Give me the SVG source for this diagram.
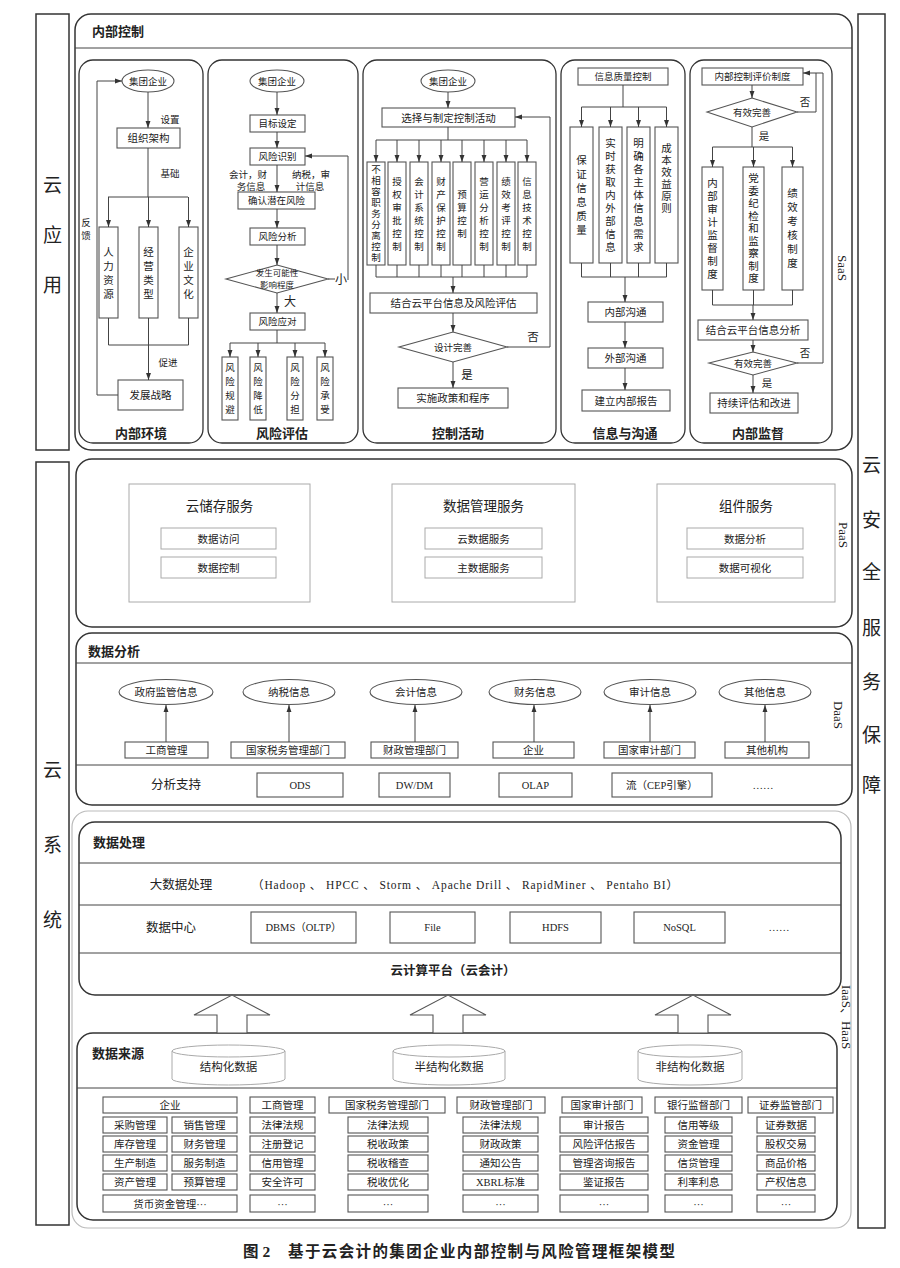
<svg xmlns="http://www.w3.org/2000/svg" width="900" height="1268" viewBox="0 0 900 1268">
<defs>
<marker id="a" viewBox="0 0 10 10" refX="10" refY="5" markerWidth="7" markerHeight="7" orient="auto" markerUnits="userSpaceOnUse"><path d="M0,1.5 L10,5 L0,8.5 z" fill="#333"/></marker>
<style>
.frame{fill:#fff;stroke:#333;stroke-width:1.5}
.pan{fill:#fff;stroke:#333;stroke-width:1.3}
.b{fill:#fff;stroke:#555;stroke-width:1.1}
.lb{fill:#fff;stroke:#aaa;stroke-width:1}
.c{fill:none;stroke:#444;stroke-width:1}
.ca{fill:none;stroke:#444;stroke-width:1;marker-end:url(#a)}
text{font-family:"Liberation Serif","Noto Sans CJK SC",serif;fill:#222}
.t{font-size:10.5px;text-anchor:middle}
.s{font-size:9.5px;text-anchor:middle}
.h{font-size:13px;font-weight:bold;text-anchor:middle}
.hl{font-size:13px;font-weight:bold}
.big{font-size:19px;text-anchor:middle}
.m{font-size:12.5px;text-anchor:middle}
.rot{font-size:13px;text-anchor:middle}
</style>
</defs>
<rect width="900" height="1268" fill="#fff"/>

<!-- side columns -->
<g id="cloud-app"><rect class="frame" x="36" y="14" width="33" height="436"/>
<text class="big" x="52.5" y="192">云</text><text class="big" x="52.5" y="242">应</text><text class="big" x="52.5" y="292">用</text></g>
<g id="cloud-system"><rect class="frame" x="36" y="462" width="33" height="763"/>
<text class="big" x="52.5" y="777">云</text><text class="big" x="52.5" y="852">系</text><text class="big" x="52.5" y="927">统</text></g>
<g id="cloud-security"><rect class="frame" x="858" y="14" width="27" height="1214"/>
<text class="big" x="871.5" y="472">云</text><text class="big" x="871.5" y="527">安</text><text class="big" x="871.5" y="579">全</text><text class="big" x="871.5" y="635">服</text><text class="big" x="871.5" y="689">务</text><text class="big" x="871.5" y="742">保</text><text class="big" x="871.5" y="792">障</text></g>

<!-- SaaS -->
<g id="internal-control"><rect class="frame" x="75" y="14" width="777" height="436" rx="16"/>
<line class="c" x1="75" y1="48" x2="852" y2="48"/>
<text class="hl" x="92" y="36">内部控制</text>
<text class="rot" transform="translate(838,268) rotate(90)">SaaS</text></g>

<g id="panel-env"><rect class="pan" x="79" y="60" width="124" height="383" rx="14"/>
<ellipse class="b" cx="148" cy="81" rx="26" ry="11"/><text class="s" x="148" y="84.5">集团企业</text>
<text class="s" x="170" y="123">设置</text>
<rect class="b" x="117" y="128" width="63" height="20"/><text class="t" x="148.5" y="142">组织架构</text>
<text class="s" x="170" y="177">基础</text>
<rect class="b" x="99" y="227" width="19" height="91"/><text class="t" x="108.5" y="255.5">人<tspan x="108.5" dy="14">力</tspan><tspan x="108.5" dy="14">资</tspan><tspan x="108.5" dy="14">源</tspan></text>
<rect class="b" x="139" y="227" width="19" height="91"/><text class="t" x="148.5" y="255.5">经<tspan x="148.5" dy="14">营</tspan><tspan x="148.5" dy="14">类</tspan><tspan x="148.5" dy="14">型</tspan></text>
<rect class="b" x="179" y="227" width="19" height="91"/><text class="t" x="188.5" y="255.5">企<tspan x="188.5" dy="14">业</tspan><tspan x="188.5" dy="14">文</tspan><tspan x="188.5" dy="14">化</tspan></text>
<text class="s" x="168" y="366">促进</text>
<text class="s" x="86" y="226">反<tspan x="86" dy="13">馈</tspan></text>
<rect class="b" x="118" y="380" width="65" height="30"/><text class="t" x="150.5" y="399">发展战略</text>
<text class="h" x="141" y="438">内部环境</text></g>

<g id="panel-risk"><rect class="pan" x="208" y="60" width="150" height="383" rx="14"/>
<ellipse class="b" cx="277" cy="81" rx="27" ry="11"/><text class="s" x="277" y="84.5">集团企业</text>
<rect class="b" x="250" y="115" width="55" height="17"/><text class="s" x="277.5" y="127">目标设定</text>
<rect class="b" x="250" y="148" width="55" height="17"/><text class="s" x="277.5" y="160">风险识别</text>
<text class="s" x="248" y="178">会计，财</text><text class="s" x="251" y="190">务信息</text>
<text class="s" x="311" y="178">纳税，审</text><text class="s" x="310" y="190">计信息</text>
<rect class="b" x="238" y="192" width="77" height="17"/><text class="s" x="276.5" y="204">确认潜在风险</text>
<rect class="b" x="250" y="228" width="55" height="17"/><text class="s" x="277.5" y="240">风险分析</text>
<polygon class="b" points="277,265 328,279 277,293 226,279"/>
<text class="s" x="277" y="276" style="font-size:8.5px">发生可能性</text><text class="s" x="277" y="288" style="font-size:8.5px">影响程度</text>
<text class="t" x="341" y="284" style="font-size:12px">小</text>
<text class="t" x="290" y="306" style="font-size:12px">大</text>
<rect class="b" x="250" y="313" width="55" height="17"/><text class="s" x="277.5" y="325">风险应对</text>
<rect class="b" x="222" y="357" width="16" height="63"/><text class="s" x="230" y="371">风<tspan x="230" dy="14">险</tspan><tspan x="230" dy="14">规</tspan><tspan x="230" dy="14">避</tspan></text>
<rect class="b" x="250" y="357" width="16" height="63"/><text class="s" x="258" y="371">风<tspan x="258" dy="14">险</tspan><tspan x="258" dy="14">降</tspan><tspan x="258" dy="14">低</tspan></text>
<rect class="b" x="287" y="357" width="16" height="63"/><text class="s" x="295" y="371">风<tspan x="295" dy="14">险</tspan><tspan x="295" dy="14">分</tspan><tspan x="295" dy="14">担</tspan></text>
<rect class="b" x="317" y="357" width="16" height="63"/><text class="s" x="325" y="371">风<tspan x="325" dy="14">险</tspan><tspan x="325" dy="14">承</tspan><tspan x="325" dy="14">受</tspan></text>
<text class="h" x="282" y="438">风险评估</text></g>

<g id="panel-ctrl"><rect class="pan" x="363" y="60" width="193" height="383" rx="14"/>
<ellipse class="b" cx="448" cy="81" rx="27" ry="11"/><text class="s" x="448" y="84.5">集团企业</text>
<rect class="b" x="382" y="108" width="133" height="19"/><text class="t" x="448.5" y="121.5">选择与制定控制活动</text>
<rect class="b" x="367" y="162" width="18" height="103"/><text class="s" x="376" y="173" style="font-size:9.5px">不<tspan x="376" dy="11">相</tspan><tspan x="376" dy="11">容</tspan><tspan x="376" dy="11">职</tspan><tspan x="376" dy="11">务</tspan><tspan x="376" dy="11">分</tspan><tspan x="376" dy="11">离</tspan><tspan x="376" dy="11">控</tspan><tspan x="376" dy="11">制</tspan></text>
<rect class="b" x="388" y="162" width="18" height="103"/><text class="s" x="397" y="185">授<tspan x="397" dy="13">权</tspan><tspan x="397" dy="13">审</tspan><tspan x="397" dy="13">批</tspan><tspan x="397" dy="13">控</tspan><tspan x="397" dy="13">制</tspan></text>
<rect class="b" x="410" y="162" width="18" height="103"/><text class="s" x="419" y="185">会<tspan x="419" dy="13">计</tspan><tspan x="419" dy="13">系</tspan><tspan x="419" dy="13">统</tspan><tspan x="419" dy="13">控</tspan><tspan x="419" dy="13">制</tspan></text>
<rect class="b" x="432" y="162" width="18" height="103"/><text class="s" x="441" y="185">财<tspan x="441" dy="13">产</tspan><tspan x="441" dy="13">保</tspan><tspan x="441" dy="13">护</tspan><tspan x="441" dy="13">控</tspan><tspan x="441" dy="13">制</tspan></text>
<rect class="b" x="453" y="162" width="18" height="103"/><text class="s" x="462" y="198">预<tspan x="462" dy="13">算</tspan><tspan x="462" dy="13">控</tspan><tspan x="462" dy="13">制</tspan></text>
<rect class="b" x="475" y="162" width="18" height="103"/><text class="s" x="484" y="185">营<tspan x="484" dy="13">运</tspan><tspan x="484" dy="13">分</tspan><tspan x="484" dy="13">析</tspan><tspan x="484" dy="13">控</tspan><tspan x="484" dy="13">制</tspan></text>
<rect class="b" x="497" y="162" width="18" height="103"/><text class="s" x="506" y="185">绩<tspan x="506" dy="13">效</tspan><tspan x="506" dy="13">考</tspan><tspan x="506" dy="13">评</tspan><tspan x="506" dy="13">控</tspan><tspan x="506" dy="13">制</tspan></text>
<rect class="b" x="518" y="162" width="18" height="103"/><text class="s" x="527" y="185">信<tspan x="527" dy="13">息</tspan><tspan x="527" dy="13">技</tspan><tspan x="527" dy="13">术</tspan><tspan x="527" dy="13">控</tspan><tspan x="527" dy="13">制</tspan></text>
<rect class="b" x="370" y="293" width="167" height="20"/><text class="t" x="453.5" y="307">结合云平台信息及风险评估</text>
<polygon class="b" points="453,332 507,347 453,362 399,347"/><text class="s" x="453" y="350.5">设计完善</text>
<text class="t" x="533" y="341" style="font-size:11.5px">否</text>
<text class="t" x="467" y="379" style="font-size:11.5px">是</text>
<rect class="b" x="398" y="388" width="110" height="20"/><text class="t" x="453" y="402">实施政策和程序</text>
<text class="h" x="458" y="438">控制活动</text></g>

<g id="panel-info"><rect class="pan" x="561" y="60" width="124" height="383" rx="14"/>
<rect class="b" x="578" y="68" width="90" height="17"/><text class="s" x="623" y="80">信息质量控制</text>
<rect class="b" x="570" y="127" width="23" height="136"/><text class="t" x="581.5" y="164">保<tspan x="581.5" dy="14">证</tspan><tspan x="581.5" dy="14">信</tspan><tspan x="581.5" dy="14">息</tspan><tspan x="581.5" dy="14">质</tspan><tspan x="581.5" dy="14">量</tspan></text>
<rect class="b" x="599" y="127" width="23" height="136"/><text class="t" x="610.5" y="147">实<tspan x="610.5" dy="13">时</tspan><tspan x="610.5" dy="13">获</tspan><tspan x="610.5" dy="13">取</tspan><tspan x="610.5" dy="13">内</tspan><tspan x="610.5" dy="13">外</tspan><tspan x="610.5" dy="13">部</tspan><tspan x="610.5" dy="13">信</tspan><tspan x="610.5" dy="13">息</tspan></text>
<rect class="b" x="627" y="127" width="23" height="136"/><text class="t" x="638.5" y="147">明<tspan x="638.5" dy="13">确</tspan><tspan x="638.5" dy="13">各</tspan><tspan x="638.5" dy="13">主</tspan><tspan x="638.5" dy="13">体</tspan><tspan x="638.5" dy="13">信</tspan><tspan x="638.5" dy="13">息</tspan><tspan x="638.5" dy="13">需</tspan><tspan x="638.5" dy="13">求</tspan></text>
<rect class="b" x="655" y="127" width="23" height="136"/><text class="t" x="666.5" y="152">成<tspan x="666.5" dy="12">本</tspan><tspan x="666.5" dy="12">效</tspan><tspan x="666.5" dy="12">益</tspan><tspan x="666.5" dy="12">原</tspan><tspan x="666.5" dy="12">则</tspan></text>
<rect class="b" x="588" y="302" width="75" height="20"/><text class="t" x="625.5" y="316">内部沟通</text>
<rect class="b" x="588" y="348" width="75" height="20"/><text class="t" x="625.5" y="362">外部沟通</text>
<rect class="b" x="582" y="390" width="88" height="21"/><text class="t" x="626" y="404.5">建立内部报告</text>
<text class="h" x="625" y="438">信息与沟通</text></g>

<g id="panel-monitor"><rect class="pan" x="690" y="60" width="142" height="383" rx="14"/>
<rect class="b" x="702" y="68" width="101" height="17"/><text class="s" x="752.5" y="80">内部控制评价制度</text>
<polygon class="b" points="752,98 797,112 752,127 707,112"/><text class="s" x="752" y="115.5">有效完善</text>
<text class="s" x="805" y="106" style="font-size:10.5px">否</text>
<text class="s" x="764" y="140" style="font-size:10.5px">是</text>
<rect class="b" x="702" y="167" width="21" height="123"/><text class="t" x="712.5" y="187">内<tspan x="712.5" dy="13">部</tspan><tspan x="712.5" dy="13">审</tspan><tspan x="712.5" dy="13">计</tspan><tspan x="712.5" dy="13">监</tspan><tspan x="712.5" dy="13">督</tspan><tspan x="712.5" dy="13">制</tspan><tspan x="712.5" dy="13">度</tspan></text>
<rect class="b" x="743" y="167" width="21" height="123"/><text class="t" x="753.5" y="182">党<tspan x="753.5" dy="12.5">委</tspan><tspan x="753.5" dy="12.5">纪</tspan><tspan x="753.5" dy="12.5">检</tspan><tspan x="753.5" dy="12.5">和</tspan><tspan x="753.5" dy="12.5">监</tspan><tspan x="753.5" dy="12.5">察</tspan><tspan x="753.5" dy="12.5">制</tspan><tspan x="753.5" dy="12.5">度</tspan></text>
<rect class="b" x="782" y="167" width="21" height="123"/><text class="t" x="792.5" y="197">绩<tspan x="792.5" dy="14">效</tspan><tspan x="792.5" dy="14">考</tspan><tspan x="792.5" dy="14">核</tspan><tspan x="792.5" dy="14">制</tspan><tspan x="792.5" dy="14">度</tspan></text>
<rect class="b" x="698" y="320" width="110" height="20"/><text class="t" x="753" y="334">结合云平台信息分析</text>
<polygon class="b" points="753,352 797,363 753,375 709,363"/><text class="s" x="753" y="366.5">有效完善</text>
<text class="s" x="805" y="357" style="font-size:10.5px">否</text>
<text class="s" x="767" y="387" style="font-size:10.5px">是</text>
<rect class="b" x="710" y="393" width="88" height="20"/><text class="t" x="754" y="407">持续评估和改进</text>
<text class="h" x="758" y="438">内部监督</text></g>

<!-- PaaS -->
<g id="paas"><rect class="frame" x="76" y="459" width="776" height="168" rx="16"/>
<text class="rot" transform="translate(839,535) rotate(90)">PaaS</text>
<rect class="lb" x="129" y="484" width="181" height="118"/><text class="m" x="219.5" y="511" style="font-size:13.5px">云储存服务</text>
<rect class="lb" x="161" y="528" width="115" height="21"/><text class="t" x="218.5" y="542.5">数据访问</text>
<rect class="lb" x="161" y="557" width="115" height="21"/><text class="t" x="218.5" y="571.5">数据控制</text>
<rect class="lb" x="392" y="484" width="183" height="118"/><text class="m" x="483.5" y="511" style="font-size:13.5px">数据管理服务</text>
<rect class="lb" x="425" y="528" width="117" height="21"/><text class="t" x="483.5" y="542.5">云数据服务</text>
<rect class="lb" x="425" y="557" width="117" height="21"/><text class="t" x="483.5" y="571.5">主数据服务</text>
<rect class="lb" x="657" y="484" width="178" height="118"/><text class="m" x="746" y="511" style="font-size:13.5px">组件服务</text>
<rect class="lb" x="687" y="528" width="116" height="21"/><text class="t" x="745" y="542.5">数据分析</text>
<rect class="lb" x="687" y="557" width="116" height="21"/><text class="t" x="745" y="571.5">数据可视化</text></g>

<!-- DaaS -->
<g id="daas"><rect class="frame" x="76" y="633" width="776" height="172" rx="16"/>
<line class="c" x1="76" y1="663" x2="852" y2="663"/>
<line class="c" x1="76" y1="765" x2="852" y2="765"/>
<text class="hl" x="88" y="656">数据分析</text>
<text class="rot" transform="translate(834,715) rotate(90)">DaaS</text>
<ellipse class="b" cx="166" cy="692" rx="47" ry="12.5"/><text class="t" x="166" y="696">政府监管信息</text>
<ellipse class="b" cx="289" cy="692" rx="46" ry="12.5"/><text class="t" x="289" y="696">纳税信息</text>
<ellipse class="b" cx="416" cy="692" rx="46" ry="12.5"/><text class="t" x="416" y="696">会计信息</text>
<ellipse class="b" cx="535" cy="692" rx="46" ry="12.5"/><text class="t" x="535" y="696">财务信息</text>
<ellipse class="b" cx="650" cy="692" rx="46" ry="12.5"/><text class="t" x="650" y="696">审计信息</text>
<ellipse class="b" cx="765" cy="692" rx="46" ry="12.5"/><text class="t" x="765" y="696">其他信息</text>
<rect class="b" x="125" y="742" width="83" height="16"/><text class="t" x="166.5" y="754">工商管理</text>
<rect class="b" x="231" y="742" width="114" height="16"/><text class="t" x="288" y="754">国家税务管理部门</text>
<rect class="b" x="371" y="742" width="87" height="16"/><text class="t" x="414.5" y="754">财政管理部门</text>
<rect class="b" x="493" y="742" width="81" height="16"/><text class="t" x="533.5" y="754">企业</text>
<rect class="b" x="604" y="742" width="91" height="16"/><text class="t" x="649.5" y="754">国家审计部门</text>
<rect class="b" x="725" y="742" width="84" height="16"/><text class="t" x="767" y="754">其他机构</text>
<text class="m" x="176" y="789">分析支持</text>
<rect class="b" x="257" y="773" width="86" height="24"/><text class="t" x="300" y="789">ODS</text>
<rect class="b" x="379" y="773" width="71" height="24"/><text class="t" x="414.5" y="789">DW/DM</text>
<rect class="b" x="499" y="773" width="73" height="24"/><text class="t" x="535.5" y="789">OLAP</text>
<rect class="b" x="612" y="773" width="100" height="24"/><text class="t" x="662" y="789">流（CEP引擎）</text>
<text class="t" x="763" y="789">……</text></g>

<!-- IaaS / HaaS -->
<g id="iaas"><rect x="72" y="811" width="779" height="417" rx="16" fill="none" stroke="#bbb" stroke-width="1.2"/>
<text class="rot" transform="translate(842,1017) rotate(90)">IaaS、HaaS</text></g>

<g id="data-processing"><rect class="frame" x="79" y="822" width="762" height="173" rx="16"/>
<line class="c" x1="79" y1="863" x2="841" y2="863"/>
<line class="c" x1="79" y1="905" x2="841" y2="905"/>
<line class="c" x1="79" y1="953" x2="841" y2="953"/>
<text class="hl" x="93" y="847">数据处理</text>
<text class="m" x="181" y="889">大数据处理</text>
<text x="252" y="889" textLength="426" lengthAdjust="spacing" style="font-size:11.5px">（Hadoop 、 HPCC 、 Storm 、 Apache Drill 、 RapidMiner 、 Pentaho BI）</text>
<text class="m" x="171" y="932">数据中心</text>
<rect class="b" x="251" y="912" width="105" height="31"/><text class="t" x="303.5" y="931">DBMS（OLTP）</text>
<rect class="b" x="390" y="912" width="85" height="31"/><text class="t" x="432.5" y="931">File</text>
<rect class="b" x="510" y="912" width="91" height="31"/><text class="t" x="555.5" y="931">HDFS</text>
<rect class="b" x="634" y="912" width="91" height="31"/><text class="t" x="679.5" y="931">NoSQL</text>
<text class="t" x="779" y="931">……</text>
<text class="m" x="453" y="975" style="font-weight:bold">云计算平台（云会计）</text></g>

<g id="data-sources"><rect class="frame" x="77" y="1033" width="760" height="187" rx="16"/>
<line class="c" x1="77" y1="1088" x2="837" y2="1088"/>
<text class="hl" x="92" y="1058">数据来源</text>
<path class="lb" d="M172,1051 A56.5,6 0 0,1 285,1051 L285,1079 A56.5,6 0 0,1 172,1079 Z M172,1051 A56.5,6 0 0,0 285,1051" fill="#fff"/><text class="t" x="228.5" y="1071" style="font-size:11.5px">结构化数据</text>
<path class="lb" d="M393,1051 A56,6 0 0,1 505,1051 L505,1079 A56,6 0 0,1 393,1079 Z M393,1051 A56,6 0 0,0 505,1051" fill="#fff"/><text class="t" x="449" y="1071" style="font-size:11.5px">半结构化数据</text>
<path class="lb" d="M638,1051 A52,6 0 0,1 742,1051 L742,1079 A52,6 0 0,1 638,1079 Z M638,1051 A52,6 0 0,0 742,1051" fill="#fff"/><text class="t" x="690" y="1071" style="font-size:11.5px">非结构化数据</text>

<g id="col-enterprise">
<rect class="b" x="103" y="1097" width="134" height="16"/><text class="t" x="170" y="1109">企业</text>
<rect class="b" x="103" y="1117" width="64" height="16"/><text class="t" x="135" y="1129">采购管理</text>
<rect class="b" x="172" y="1117" width="65" height="16"/><text class="t" x="204.5" y="1129">销售管理</text>
<rect class="b" x="103" y="1136" width="64" height="16"/><text class="t" x="135" y="1148">库存管理</text>
<rect class="b" x="172" y="1136" width="65" height="16"/><text class="t" x="204.5" y="1148">财务管理</text>
<rect class="b" x="103" y="1155" width="64" height="16"/><text class="t" x="135" y="1167">生产制造</text>
<rect class="b" x="172" y="1155" width="65" height="16"/><text class="t" x="204.5" y="1167">服务制造</text>
<rect class="b" x="103" y="1174" width="64" height="16"/><text class="t" x="135" y="1186">资产管理</text>
<rect class="b" x="172" y="1174" width="65" height="16"/><text class="t" x="204.5" y="1186">预算管理</text>
<rect class="b" x="103" y="1195" width="134" height="17"/><text class="t" x="170" y="1207.5">货币资金管理···</text></g>

<g id="col-aic">
<rect class="b" x="250" y="1097" width="65" height="16"/><text class="t" x="282.5" y="1109">工商管理</text>
<rect class="b" x="250" y="1117" width="65" height="16"/><text class="t" x="282.5" y="1129">法律法规</text>
<rect class="b" x="250" y="1136" width="65" height="16"/><text class="t" x="282.5" y="1148">注册登记</text>
<rect class="b" x="250" y="1155" width="65" height="16"/><text class="t" x="282.5" y="1167">信用管理</text>
<rect class="b" x="250" y="1174" width="65" height="16"/><text class="t" x="282.5" y="1186">安全许可</text>
<rect class="b" x="250" y="1195" width="65" height="17"/><text class="t" x="282.5" y="1207.5">···</text></g>

<g id="col-tax">
<rect class="b" x="329" y="1097" width="116" height="16"/><text class="t" x="387" y="1109">国家税务管理部门</text>
<rect class="b" x="348" y="1117" width="80" height="16"/><text class="t" x="388" y="1129">法律法规</text>
<rect class="b" x="348" y="1136" width="80" height="16"/><text class="t" x="388" y="1148">税收政策</text>
<rect class="b" x="348" y="1155" width="80" height="16"/><text class="t" x="388" y="1167">税收稽查</text>
<rect class="b" x="348" y="1174" width="80" height="16"/><text class="t" x="388" y="1186">税收优化</text>
<rect class="b" x="348" y="1195" width="80" height="17"/><text class="t" x="388" y="1207.5">···</text></g>

<g id="col-finance">
<rect class="b" x="457" y="1097" width="88" height="16"/><text class="t" x="501" y="1109">财政管理部门</text>
<rect class="b" x="463" y="1117" width="75" height="16"/><text class="t" x="500.5" y="1129">法律法规</text>
<rect class="b" x="463" y="1136" width="75" height="16"/><text class="t" x="500.5" y="1148">财政政策</text>
<rect class="b" x="463" y="1155" width="75" height="16"/><text class="t" x="500.5" y="1167">通知公告</text>
<rect class="b" x="463" y="1174" width="75" height="16"/><text class="t" x="500.5" y="1186">XBRL标准</text>
<rect class="b" x="463" y="1195" width="75" height="17"/><text class="t" x="500.5" y="1207.5">···</text></g>

<g id="col-audit">
<rect class="b" x="562" y="1097" width="80" height="16"/><text class="t" x="602" y="1109">国家审计部门</text>
<rect class="b" x="560" y="1117" width="88" height="16"/><text class="t" x="604" y="1129">审计报告</text>
<rect class="b" x="560" y="1136" width="88" height="16"/><text class="t" x="604" y="1148">风险评估报告</text>
<rect class="b" x="560" y="1155" width="88" height="16"/><text class="t" x="604" y="1167">管理咨询报告</text>
<rect class="b" x="560" y="1174" width="88" height="16"/><text class="t" x="604" y="1186">鉴证报告</text>
<rect class="b" x="560" y="1195" width="88" height="17"/><text class="t" x="604" y="1207.5">···</text></g>

<g id="col-bank">
<rect class="b" x="655" y="1097" width="87" height="16"/><text class="t" x="698.5" y="1109">银行监督部门</text>
<rect class="b" x="665" y="1117" width="67" height="16"/><text class="t" x="698.5" y="1129">信用等级</text>
<rect class="b" x="665" y="1136" width="67" height="16"/><text class="t" x="698.5" y="1148">资金管理</text>
<rect class="b" x="665" y="1155" width="67" height="16"/><text class="t" x="698.5" y="1167">信贷管理</text>
<rect class="b" x="665" y="1174" width="67" height="16"/><text class="t" x="698.5" y="1186">利率利息</text>
<rect class="b" x="665" y="1195" width="67" height="17"/><text class="t" x="698.5" y="1207.5">···</text></g>

<g id="col-securities">
<rect class="b" x="748" y="1097" width="85" height="16"/><text class="t" x="790.5" y="1109">证券监管部门</text>
<rect class="b" x="757" y="1117" width="58" height="16"/><text class="t" x="786" y="1129">证券数据</text>
<rect class="b" x="757" y="1136" width="58" height="16"/><text class="t" x="786" y="1148">股权交易</text>
<rect class="b" x="757" y="1155" width="58" height="16"/><text class="t" x="786" y="1167">商品价格</text>
<rect class="b" x="757" y="1174" width="58" height="16"/><text class="t" x="786" y="1186">产权信息</text>
<rect class="b" x="757" y="1195" width="58" height="17"/><text class="t" x="786" y="1207.5">···</text></g>
</g>

<!-- connectors -->
<g id="connectors">
<path class="ca" d="M148,92 V128"/>
<path class="c" d="M148,148 V197 M108,197 H188"/>
<path class="ca" d="M108.5,197 V227"/><path class="ca" d="M148.5,197 V227"/><path class="ca" d="M188.5,197 V227"/>
<path class="c" d="M108.5,318 V345 H188.5 V318 M148.5,318 V345"/>
<path class="ca" d="M148.5,345 V380"/>
<path class="ca" d="M118,395 H97 V81 H122"/>

<path class="ca" d="M277,92 V115"/><path class="ca" d="M277,132 V148"/><path class="ca" d="M277,165 V192"/><path class="ca" d="M277,209 V228"/><path class="ca" d="M277,245 V265"/>
<path class="c" d="M328,279 H335"/>
<path class="ca" d="M348,280 V156 H305"/>
<path class="ca" d="M277,293 V313"/>
<path class="c" d="M277,330 V343 M230,343 H325"/>
<path class="ca" d="M230,343 V357"/><path class="ca" d="M258,343 V357"/><path class="ca" d="M295,343 V357"/><path class="ca" d="M325,343 V357"/>

<path class="ca" d="M448,92 V108"/>
<path class="c" d="M448,127 V140 M376,140 H527"/>
<path class="ca" d="M376,140 V162"/><path class="ca" d="M397,140 V162"/><path class="ca" d="M419,140 V162"/><path class="ca" d="M441,140 V162"/><path class="ca" d="M462,140 V162"/><path class="ca" d="M484,140 V162"/><path class="ca" d="M506,140 V162"/><path class="ca" d="M527,140 V162"/>
<path class="c" d="M376,265 V277 H527 V265 M397,265 V277 M419,265 V277 M441,265 V277 M462,265 V277 M484,265 V277 M506,265 V277"/>
<path class="ca" d="M453,277 V293"/><path class="ca" d="M453,313 V332"/>
<path class="ca" d="M507,347 H550 V117 H515"/>
<path class="ca" d="M453,362 V388"/>

<path class="c" d="M623,85 V107 M581.5,107 H666.5"/>
<path class="ca" d="M581.5,107 V127"/><path class="ca" d="M610.5,107 V127"/><path class="ca" d="M638.5,107 V127"/><path class="ca" d="M666.5,107 V127"/>
<path class="c" d="M581.5,263 V277 H666.5 V263 M610.5,263 V277 M638.5,263 V277"/>
<path class="ca" d="M625,277 V302"/><path class="ca" d="M625,322 V348"/><path class="ca" d="M625,368 V390"/>

<path class="ca" d="M752,85 V98"/>
<path class="c" d="M797,112 H816 V73"/>
<path class="ca" d="M797,363 H823 V73 H803"/>
<path class="c" d="M752,127 V147 M712.5,147 H792.5"/>
<path class="ca" d="M712.5,147 V167"/><path class="ca" d="M753.5,147 V167"/><path class="ca" d="M792.5,147 V167"/>
<path class="c" d="M712.5,290 V305 H792.5 V290 M753.5,290 V305"/>
<path class="ca" d="M753,305 V320"/><path class="ca" d="M753,340 V352"/><path class="ca" d="M753,375 V393"/>

<path class="ca" d="M166,742 V705"/><path class="ca" d="M289,742 V705"/><path class="ca" d="M415,742 V705"/><path class="ca" d="M534,742 V705"/><path class="ca" d="M650,742 V705"/><path class="ca" d="M765,742 V705"/>

<polygon class="b" points="217,1033 217,1015 194,1015 232,995 270,1015 247,1015 247,1033"/>
<polygon class="b" points="433,1033 433,1015 410,1015 448,995 486,1015 463,1015 463,1033"/>
<polygon class="b" points="678,1033 678,1015 655,1015 693,995 731,1015 708,1015 708,1033"/>
</g>

<text x="243" y="1257" style="font-size:15.5px;font-weight:bold">图 2<tspan x="288" textLength="387" lengthAdjust="spacing">基于云会计的集团企业内部控制与风险管理框架模型</tspan></text>
</svg>
